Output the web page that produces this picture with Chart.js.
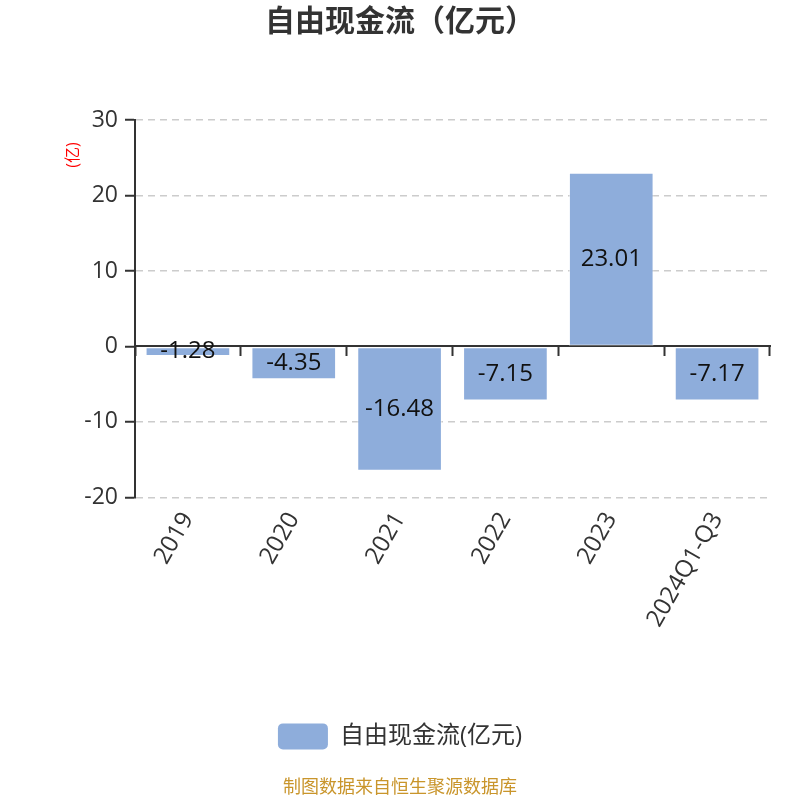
<!DOCTYPE html>
<html>
<head>
<meta charset="utf-8">
<script src="https://cdn.jsdelivr.net/npm/chart.js@4.4.1/dist/chart.umd.min.js"></script>
<style>
  html, body { margin: 0; padding: 0; background: #fff; }
  #wrap { width: 800px; height: 800px; }
</style>
</head>
<body>
<div id="wrap"><canvas id="myFcf"></canvas></div>
<script>
const categories = ["2019", "2020", "2021", "2022", "2023", "2024Q1-Q3"];
const fcfValues = [-1.28, -4.35, -16.48, -7.15, 23.01, -7.17];
const yTicks = [-20, -10, 0, 10, 20, 30];

const FONT = "'Open Sans', 'Noto Sans CJK SC', sans-serif";
const BAR_COLOR = "rgb(142, 173, 219)";
const AXIS_COLOR = "#333333";

// value labels in the middle of each bar
const barLabels = {
  id: "barLabels",
  afterDatasetsDraw(chart) {
    const ctx = chart.ctx;
    const meta = chart.getDatasetMeta(0);
    ctx.save();
    ctx.font = "24px " + FONT;
    ctx.fillStyle = "#111111";
    ctx.textAlign = "center";
    ctx.textBaseline = "middle";
    meta.data.forEach((bar, i) => {
      const y = (bar.y + bar.base) / 2;
      ctx.fillText(fcfValues[i].toFixed(2), bar.x, y);
    });
    ctx.restore();
  },
};

// small red unit text next to the y axis
const unitLabel = {
  id: "unitLabel",
  afterDraw(chart) {
    const ctx = chart.ctx;
    ctx.save();
    ctx.translate(73, 155);
    ctx.rotate(-Math.PI / 2);
    ctx.font = "16px " + FONT;
    ctx.fillStyle = "#ff0000";
    ctx.textAlign = "center";
    ctx.textBaseline = "middle";
    ctx.fillText("(亿)", 0, 0);
    ctx.restore();
  },
};

const ctx1 = document.getElementById("myFcf");

const myChart = new Chart(ctx1, {
  type: "bar",
  data: {
    labels: categories,
    datasets: [
      {
        label: "自由现金流(亿元)",
        data: fcfValues,
        backgroundColor: BAR_COLOR,
        borderColor: "rgba(255, 255, 255, 0.45)",
        borderWidth: 1,
        borderSkipped: false,
        barPercentage: 0.8,
        categoryPercentage: 1.0,
        xAxisID: "x",
        yAxisID: "y",
      },
    ],
  },
  options: {
    responsive: true,
    maintainAspectRatio: false,
    animation: false,
    devicePixelRatio: 1,
    layout: {
      padding: { left: 30, right: 30, top: 0, bottom: 0 },
    },
    plugins: {
      title: {
        display: true,
        text: "自由现金流（亿元）",
        color: AXIS_COLOR,
        font: { family: FONT, size: 30, weight: "bold" },
        padding: { top: 4, bottom: 80 },
      },
      subtitle: {
        display: true,
        position: "bottom",
        text: "制图数据来自恒生聚源数据库",
        color: "#c9952b",
        font: { family: FONT, size: 18 },
        padding: { top: 18, bottom: 1 },
      },
      legend: {
        display: true,
        position: "bottom",
        labels: {
          color: AXIS_COLOR,
          font: { family: FONT, size: 24 },
          boxWidth: 50,
          boxHeight: 26,
          useBorderRadius: true,
          borderRadius: 5,
          padding: 12,
          generateLabels(chart) {
            return [
              {
                text: chart.data.datasets[0].label,
                fillStyle: BAR_COLOR,
                strokeStyle: BAR_COLOR,
                lineWidth: 0,
                borderRadius: 5,
                datasetIndex: 0,
                fontColor: AXIS_COLOR,
              },
            ];
          },
        },
      },
      tooltip: { enabled: false },
    },
    scales: {
      y: {
        type: "linear",
        min: -20,
        max: 30,
        afterBuildTicks(scale) {
          scale.ticks = yTicks.map((v) => ({ value: v }));
        },
        afterFit(scale) {
          scale.width = 105;
        },
        border: {
          display: true,
          color: AXIS_COLOR,
          width: 2,
          dash: [7, 5],
        },
        grid: {
          color: (c) => (c.tick && c.tick.value === 0 ? "rgba(0,0,0,0)" : "#cccccc"),
          lineWidth: 1.5,
          tickColor: AXIS_COLOR,
          tickLength: 10,
          tickWidth: 2,
        },
        ticks: {
          color: AXIS_COLOR,
          font: { family: FONT, size: 23 },
          padding: 7,
        },
      },
      x: {
        type: "category",
        position: "bottom",
        offset: true,
        afterFit(scale) {
          scale.height = 214;
        },
        grid: { display: false },
        border: { display: false },
        ticks: {
          color: AXIS_COLOR,
          font: { family: FONT, size: 24 },
          minRotation: 60,
          maxRotation: 60,
          padding: 2,
        },
      },
      xZero: {
        type: "category",
        labels: categories,
        position: { y: 0 },
        offset: true,
        grid: {
          offset: true,
          drawOnChartArea: false,
          tickColor: AXIS_COLOR,
          tickLength: 9,
          tickWidth: 2,
        },
        border: { display: true, color: AXIS_COLOR, width: 2 },
        ticks: { display: false },
      },
    },
  },
  plugins: [barLabels, unitLabel],
});
</script>
</body>
</html>
